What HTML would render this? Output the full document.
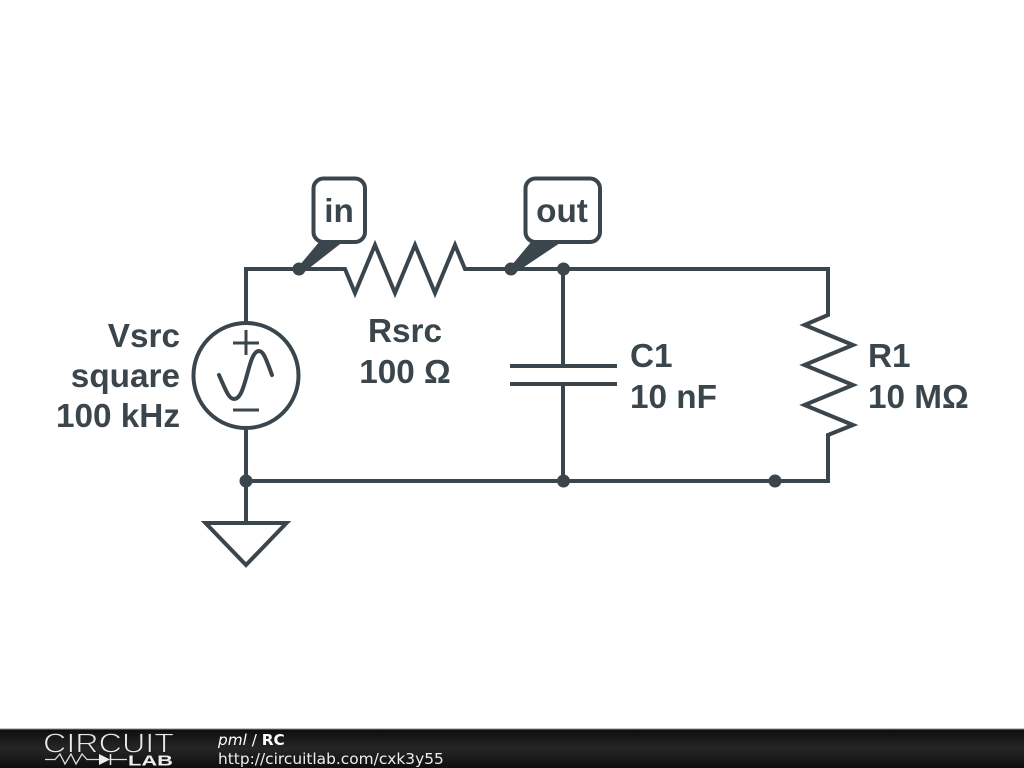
<!DOCTYPE html>
<html><head><meta charset="utf-8"><style>html,body{margin:0;padding:0;background:#fff}svg{display:block}</style></head>
<body>
<svg xmlns="http://www.w3.org/2000/svg" width="1024" height="768" viewBox="0 0 1024 768">
<defs><linearGradient id="g" x1="0" y1="0" x2="0" y2="1"><stop offset="0" stop-color="#0d0d0d"/><stop offset="0.5" stop-color="#262626"/><stop offset="1" stop-color="#0e0e0e"/></linearGradient></defs>
<rect width="1024" height="768" fill="#fff"/>
<g fill="none" stroke="#3b464c" stroke-width="4" stroke-linejoin="miter">
<path d="M246 322V269H345L355 293L375 245L395 293L415 245L435 293L455 245L465 269H828V315L804.500 325L853 345L804.500 365L853 385L804.500 405L853 425L828 435V481H246V429"/>
<path d="M563 269V366M563 384V481M510 366H617M510 384H617M246 481V523"/>
<circle cx="246" cy="375.500" r="52.500"/>
<path d="M205.500 523H286.500L246 565Z"/>
<path d="M233 343H259M246 330V355" stroke-width="3"/><path d="M233 410H259" stroke-width="3"/>
<path d="M219 375C226 391 229 399 234 399C241 399 244 385 247 375C250 364 253 351 259 351C264 351 267 362 272 375" stroke-linecap="round"/>
<rect x="313.500" y="178.500" width="51.500" height="63.500" rx="10"/>
<rect x="525.500" y="178.500" width="74.500" height="63.500" rx="10"/>
</g>
<g fill="#3b464c">
<path d="M299 266L320 241H344L303 273Z"/><path d="M511 266L532 241H563L515 273Z"/>
<circle cx="299" cy="269" r="6.500"/><circle cx="511" cy="269" r="6.500"/><circle cx="563.500" cy="269" r="6.500"/>
<circle cx="246" cy="481" r="6.500"/><circle cx="563.500" cy="481" r="6.500"/><circle cx="775" cy="481" r="6.500"/>
</g>
<g font-family="'Liberation Sans',sans-serif" font-weight="700" font-size="33.300" fill="#3b464c">
<text x="339" y="222" text-anchor="middle">in</text>
<text x="562" y="222" text-anchor="middle">out</text>
<text x="180" y="347" text-anchor="end">Vsrc</text>
<text x="180" y="387" text-anchor="end">square</text>
<text x="180" y="427" text-anchor="end">100 kHz</text>
<text x="405" y="342" text-anchor="middle">Rsrc</text>
<text x="405" y="383" text-anchor="middle">100 Ω</text>
<text x="630" y="367">C1</text>
<text x="630" y="408">10 nF</text>
<text x="868" y="367">R1</text>
<text x="868" y="408">10 MΩ</text>
</g>
<rect y="729" width="1024" height="39" fill="url(#g)"/>
<rect y="728.500" width="1024" height="1" fill="#8a8a8a"/>
<text x="43" y="752.500" font-family="'Liberation Sans',sans-serif" font-size="28" fill="#e8e8e8" stroke="#1c1c1c" stroke-width="0.900" textLength="131" lengthAdjust="spacingAndGlyphs">CIRCUIT</text>
<text x="128" y="765.500" font-family="'Liberation Sans',sans-serif" font-weight="700" font-size="15" fill="#eee" textLength="45" lengthAdjust="spacingAndGlyphs">LAB</text>
<path d="M45 759.500H55L60 754L65 764L71 754L76 764L82 754L87 759.500H99M111 759.500H127" fill="none" stroke="#ddd" stroke-width="1.300"/>
<path d="M99 754L110 759.500L99 765Z" fill="#eee"/><path d="M110.500 754V765" stroke="#eee" stroke-width="1.500" fill="none"/>
<text x="218" y="745" font-family="'DejaVu Sans',sans-serif" font-size="15.300" fill="#fff"><tspan font-style="italic">pml</tspan> / <tspan font-weight="700">RC</tspan></text>
<text x="218" y="764" font-family="'DejaVu Sans',sans-serif" font-size="15.400" fill="#eee">http://circuitlab.com/cxk3y55</text>
</svg>
</body></html>
